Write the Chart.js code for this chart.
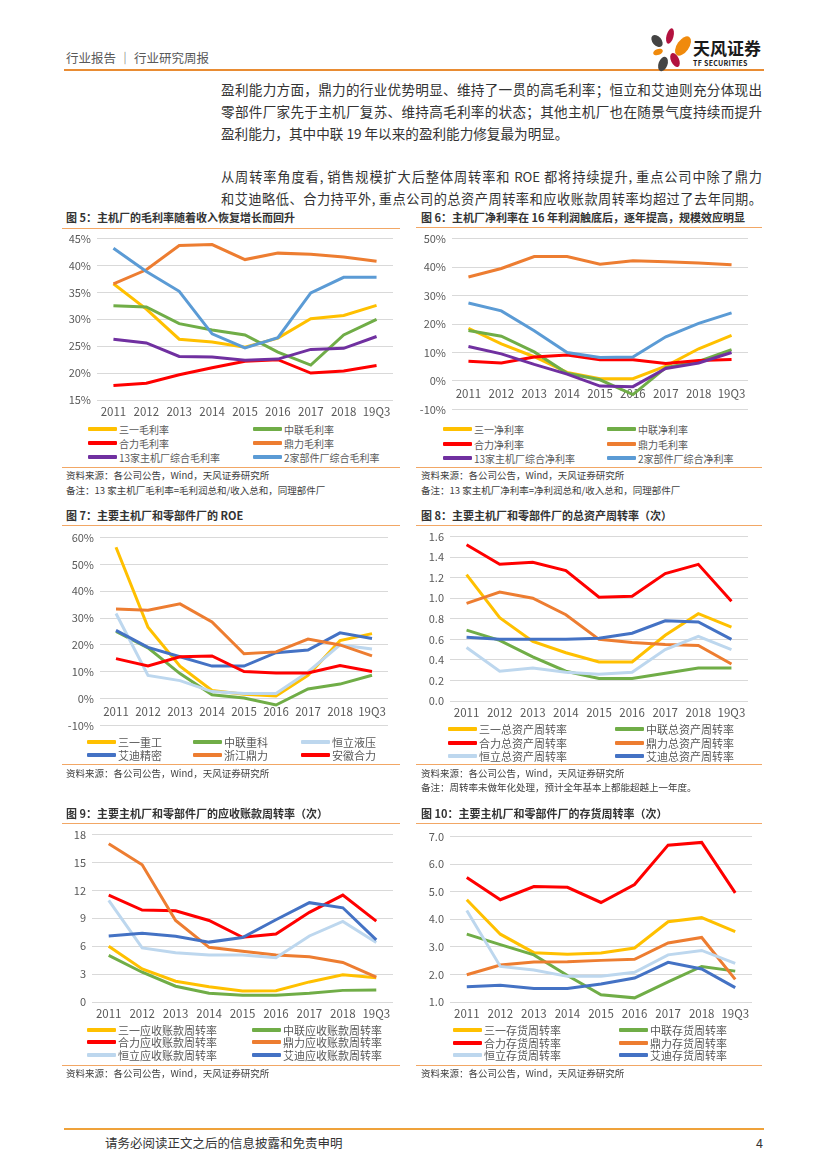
<!DOCTYPE html>
<html>
<head>
<meta charset="utf-8">
<script src="https://cdn.jsdelivr.net/npm/chart.js@4.4.0/dist/chart.umd.min.js"></script>
<style>
  body { margin: 0; background: #fff; font-family: "Noto Sans CJK SC", sans-serif; color: #404040; }
  #page { position: relative; width: 827px; height: 1169px; overflow: hidden; }
  .abs { position: absolute; white-space: nowrap; }
  .rule { position: absolute; height: 1px; background: #F2A765; }
  .ttl { position: absolute; font-size: 11px; font-weight: bold; color: #333; line-height: 14px; white-space: nowrap; }
  .src { position: absolute; font-size: 9.5px; color: #404040; line-height: 12px; white-space: nowrap; }
  .txt { position: absolute; left: 221px; width: 541px; font-size: 13.6px; line-height: 18px; color: #333; white-space: nowrap; }
  .txt.j { text-align: justify; text-align-last: justify; }
  .txt.s { font-size: 13.2px; }
  canvas { position: absolute; }
  .lg { position: absolute; display: flex; align-items: center; height: 14px; color: #595959; white-space: nowrap; }
  .lg i { display: inline-block; width: 29px; height: 4px; margin-right: 2px; border-radius: 1px; }
</style>
</head>
<body>
<div id="page">
  <!-- header -->
  <div class="abs" style="left:66px;top:49px;font-size:12.5px;color:#595959;line-height:17px">行业报告 ｜ 行业研究周报</div>
  <div class="abs" style="left:64px;top:69px;width:700px;height:2px;background:#E98C33"></div>
  <svg class="abs" style="left:640px;top:20px" width="56" height="56" viewBox="640 20 56 56">
    <ellipse cx="670" cy="36" rx="3.5" ry="8" fill="#B3123F" transform="rotate(15 670 36)"/>
    <ellipse cx="683" cy="46" rx="6" ry="11" fill="#F08A0C" transform="rotate(35 683 46)"/>
    <ellipse cx="657" cy="41" rx="4.5" ry="7" fill="#444" transform="rotate(-40 657 41)"/>
    <ellipse cx="658" cy="52" rx="5" ry="3" fill="#F08A0C" transform="rotate(-20 658 52)"/>
    <ellipse cx="663" cy="64" rx="4.5" ry="7.5" fill="#444" transform="rotate(20 663 64)"/>
    <ellipse cx="675" cy="60" rx="4" ry="7.5" fill="#B3123F" transform="rotate(-25 675 60)"/>
  </svg>
  <div class="abs" style="left:693px;top:38px;font-size:17px;font-weight:bold;color:#1a1a1a;line-height:20px">天风证券</div>
  <div class="abs" style="left:693px;top:59px;font-size:7px;font-weight:bold;color:#1a1a1a;line-height:9px;letter-spacing:0.3px">TF SECURITIES</div>

  <!-- body text -->
  <div class="txt j" style="top:80px">盈利能力方面，鼎力的行业优势明显、维持了一贯的高毛利率；恒立和艾迪则充分体现出</div>
  <div class="txt j" style="top:102px">零部件厂家先于主机厂复苏、维持高毛利率的状态；其他主机厂也在随景气度持续而提升</div>
  <div class="txt" style="top:124px">盈利能力，其中中联 19 年以来的盈利能力修复最为明显。</div>
  <div class="txt j s" style="top:168px">从周转率角度看, 销售规模扩大后整体周转率和 ROE 都将持续提升, 重点公司中除了鼎力</div>
  <div class="txt j s" style="top:190px">和艾迪略低、合力持平外, 重点公司的总资产周转率和应收账款周转率均超过了去年同期。</div>

  <!-- chart 5 -->
  <div class="ttl" style="left:66px;top:210px">图 5：主机厂的毛利率随着收入恢复增长而回升</div>
  <div class="rule" style="left:62px;top:228px;width:338px"></div>
  <canvas id="c5" width="338" height="196" style="left:62px;top:226px"></canvas>
  <div id="l5"></div>
  <div class="rule" style="left:62px;top:467px;width:338px"></div>
  <div class="src" style="left:66px;top:469px">资料来源：各公司公告，Wind，天风证券研究所</div>
  <div class="src" style="left:66px;top:484px">备注：13 家主机厂毛利率=毛利润总和/收入总和，同理部件厂</div>

  <!-- chart 6 -->
  <div class="ttl" style="left:421px;top:210px">图 6：主机厂净利率在 16 年利润触底后，逐年提高，规模效应明显</div>
  <div class="rule" style="left:416px;top:227px;width:346px"></div>
  <canvas id="c6" width="346" height="196" style="left:416px;top:226px"></canvas>
  <div id="l6"></div>
  <div class="rule" style="left:416px;top:467px;width:346px"></div>
  <div class="src" style="left:421px;top:469px">资料来源：各公司公告，Wind，天风证券研究所</div>
  <div class="src" style="left:421px;top:484px">备注：13 家主机厂净利率=净利润总和/收入总和，同理部件厂</div>

  <!-- chart 7 -->
  <div class="ttl" style="left:66px;top:508px">图 7：主要主机厂和零部件厂的 ROE</div>
  <div class="rule" style="left:62px;top:525px;width:338px"></div>
  <canvas id="c7" width="338" height="213" style="left:62px;top:525px"></canvas>
  <div id="l7"></div>
  <div class="rule" style="left:62px;top:764px;width:338px"></div>
  <div class="src" style="left:66px;top:767px">资料来源：各公司公告，Wind，天风证券研究所</div>

  <!-- chart 8 -->
  <div class="ttl" style="left:421px;top:508px">图 8：主要主机厂和零部件厂的总资产周转率（次）</div>
  <div class="rule" style="left:416px;top:525px;width:346px"></div>
  <canvas id="c8" width="346" height="199" style="left:416px;top:524px"></canvas>
  <div id="l8"></div>
  <div class="rule" style="left:416px;top:764px;width:346px"></div>
  <div class="src" style="left:421px;top:767px">资料来源：各公司公告，Wind，天风证券研究所</div>
  <div class="src" style="left:421px;top:781px">备注：周转率未做年化处理，预计全年基本上都能超越上一年度。</div>

  <!-- chart 9 -->
  <div class="ttl" style="left:66px;top:806px">图 9：主要主机厂和零部件厂的应收账款周转率（次）</div>
  <div class="rule" style="left:62px;top:823px;width:338px"></div>
  <canvas id="c9" width="338" height="202" style="left:62px;top:822px"></canvas>
  <div id="l9"></div>
  <div class="rule" style="left:62px;top:1065px;width:338px"></div>
  <div class="src" style="left:66px;top:1067px">资料来源：各公司公告，Wind，天风证券研究所</div>

  <!-- chart 10 -->
  <div class="ttl" style="left:421px;top:806px">图 10：主要主机厂和零部件厂的存货周转率（次）</div>
  <div class="rule" style="left:416px;top:823px;width:346px"></div>
  <canvas id="c10" width="346" height="200" style="left:416px;top:824px"></canvas>
  <div id="l10"></div>
  <div class="rule" style="left:416px;top:1065px;width:346px"></div>
  <div class="src" style="left:421px;top:1067px">资料来源：各公司公告，Wind，天风证券研究所</div>

  <!-- footer -->
  <div class="abs" style="left:64px;top:1128px;width:700px;height:2px;background:#EFA23A"></div>
  <div class="abs" style="left:105px;top:1134px;font-size:12.5px;color:#333;line-height:17px">请务必阅读正文之后的信息披露和免责申明</div>
  <div class="abs" style="left:756px;top:1134px;font-size:12.5px;color:#333;line-height:17px">4</div>
</div>

<script>
/* globals Chart:false */
(function drawPage() {
  'use strict'

  var years = ['2011', '2012', '2013', '2014', '2015', '2016', '2017', '2018', '19Q3']

  // 图5 毛利率 (%)
  var gmNames = ['三一毛利率', '中联毛利率', '合力毛利率', '鼎力毛利率', '13家主机厂综合毛利率', '2家部件厂综合毛利率']
  var gmSany = [36.6, 31.9, 26.3, 25.8, 24.8, 26.5, 30.1, 30.7, 32.6]
  var gmZoomlion = [32.5, 32.3, 29.2, 28.0, 27.1, 23.9, 21.5, 27.1, 30.0]
  var gmHeli = [17.7, 18.1, 19.7, 21.0, 22.2, 22.5, 20.0, 20.4, 21.4]
  var gmDingli = [36.6, 39.2, 43.7, 43.9, 41.1, 42.3, 42.1, 41.6, 40.8]
  var gmOem13 = [26.3, 25.6, 23.1, 23.0, 22.4, 22.6, 24.4, 24.6, 26.8]
  var gmParts2 = [43.2, 38.9, 35.2, 27.3, 24.7, 26.6, 34.9, 37.8, 37.8]

  // 图6 净利率 (%)
  var npNames = ['三一净利率', '中联净利率', '合力净利率', '鼎力毛利率', '13家主机厂综合净利率', '2家部件厂综合净利率']
  var npSany = [18.5, 13.0, 8.5, 3.0, 0.8, 0.8, 5.2, 11.3, 16.0]
  var npZoomlion = [17.7, 15.7, 10.2, 2.7, 0.4, -4.8, 4.7, 6.9, 11.0]
  var npHeli = [6.9, 6.3, 8.4, 9.1, 7.4, 7.4, 6.1, 7.2, 7.5]
  var npDingli = [36.5, 39.5, 43.7, 43.7, 41.0, 42.2, 41.9, 41.4, 40.8]
  var npOem13 = [12.1, 9.5, 5.8, 2.4, -1.8, -2.0, 4.4, 6.3, 10.0]
  var npParts2 = [27.4, 24.6, 17.6, 10.0, 8.2, 8.4, 15.5, 20.2, 23.9]

  // 图7 ROE (%)
  var roeNames = ['三一重工', '中联重科', '恒立液压', '艾迪精密', '浙江鼎力', '安徽合力']
  var roeSany = [56.4, 26.6, 12.1, 3.0, 1.6, 1.0, 8.7, 21.6, 24.2]
  var roeZoomlion = [25.0, 18.9, 9.3, 1.4, 0.2, -2.4, 3.6, 5.4, 8.7]
  var roeHengli = [31.7, 8.6, 6.7, 2.6, 1.9, 1.9, 9.9, 20.0, 18.5]
  var roeAidi = [25.4, 19.1, 15.6, 12.1, 12.1, 17.1, 18.1, 24.5, 22.4]
  var roeDingli = [33.4, 32.9, 35.3, 28.6, 16.7, 17.4, 22.2, 20.0, 15.9]
  var roeHeli = [14.9, 12.2, 15.6, 15.9, 10.1, 9.5, 9.5, 12.3, 10.1]

  // 图8 总资产周转率 (次)
  var taNames = ['三一总资产周转率', '中联总资产周转率', '合力总资产周转率', '鼎力总资产周转率', '恒立总资产周转率', '艾迪总资产周转率']
  var taSany = [1.23, 0.81, 0.58, 0.47, 0.38, 0.38, 0.64, 0.85, 0.72]
  var taZoomlion = [0.69, 0.59, 0.43, 0.29, 0.22, 0.22, 0.27, 0.32, 0.32]
  var taHeli = [1.52, 1.33, 1.35, 1.27, 1.01, 1.02, 1.24, 1.33, 0.97]
  var taDingli = [0.95, 1.06, 1.00, 0.84, 0.60, 0.57, 0.55, 0.54, 0.36]
  var taHengli = [0.52, 0.29, 0.32, 0.28, 0.26, 0.28, 0.50, 0.63, 0.50]
  var taAidi = [0.62, 0.60, 0.60, 0.60, 0.61, 0.66, 0.78, 0.77, 0.60]

  // 图9 应收账款周转率 (次)
  var arNames = ['三一应收账款周转率', '中联应收账款周转率', '合力应收账款周转率', '鼎力应收账款周转率', '恒立应收账款周转率', '艾迪应收账款周转率']
  var arSany = [6.0, 3.55, 2.23, 1.64, 1.18, 1.22, 2.16, 2.92, 2.61]
  var arZoomlion = [5.01, 3.2, 1.7, 0.94, 0.73, 0.73, 0.94, 1.25, 1.29]
  var arHeli = [11.49, 9.88, 9.81, 8.77, 6.96, 7.31, 9.64, 11.49, 8.7]
  var arDingli = [17.02, 14.76, 8.77, 5.88, 5.46, 5.05, 4.87, 4.25, 2.68]
  var arHengli = [10.93, 5.81, 5.29, 5.05, 5.05, 4.77, 7.1, 8.67, 6.4]
  var arAidi = [7.1, 7.38, 7.07, 6.44, 6.93, 8.84, 10.68, 10.13, 6.68]

  // 图10 存货周转率 (次)
  var invNames = ['三一存货周转率', '中联存货周转率', '合力存货周转率', '鼎力存货周转率', '恒立存货周转率', '艾迪存货周转率']
  var invSany = [4.71, 3.46, 2.79, 2.73, 2.78, 2.96, 3.91, 4.06, 3.55]
  var invZoomlion = [3.46, 3.08, 2.71, 1.96, 1.26, 1.15, 1.73, 2.29, 2.12]
  var invHeli = [5.52, 4.71, 5.19, 5.16, 4.61, 5.26, 6.69, 6.79, 4.96]
  var invDingli = [1.99, 2.34, 2.45, 2.46, 2.51, 2.55, 3.14, 3.34, 1.82]
  var invHengli = [4.32, 2.29, 2.16, 1.93, 1.93, 2.08, 2.71, 2.87, 2.4]
  var invAidi = [1.55, 1.61, 1.49, 1.49, 1.65, 1.87, 2.44, 2.2, 1.52]

  var YELLOW = '#FFC000', GREEN = '#70AD47', RED = '#FF0000', ORANGE = '#ED7D31'
  var PURPLE = '#7030A0', BLUE = '#5B9BD5', PALE = '#BDD7EE', NAVY = '#4472C4'

  Chart.defaults.font.family = '"Noto Sans CJK SC", "DejaVu Sans", sans-serif'
  Chart.defaults.color = '#595959'

  var pct = function (v) { return v + '%' }
  var one = function (v) { return v.toFixed(1) }
  var plain = function (v) { return v }

  function lineChart(id, box, series, colors, y) {
    var n = series.length
    return new Chart(document.getElementById(id), {
      type: 'line',
      data: {
        labels: years,
        datasets: series.map(function (s, i) {
          return {
            data: s,
            borderColor: colors[i],
            backgroundColor: colors[i],
            borderWidth: 3,
            pointRadius: 0,
            tension: 0,
            fill: false,
            order: n - i
          }
        })
      },
      options: {
        responsive: false,
        animation: false,
        layout: { padding: { top: box.pt, right: box.pr, bottom: box.pb || 0, left: 0 } },
        plugins: { legend: { display: false }, tooltip: { enabled: false } },
        scales: {
          x: {
            offset: true,
            position: box.zero ? { y: 0 } : 'bottom',
            grid: { display: false, drawTicks: false },
            border: { display: false },
            ticks: { font: { size: 11.5 }, padding: box.zero ? 6 : 5, maxRotation: 0, autoSkip: false },
            afterFit: function (s) { if (!box.zero) s.height = box.xh }
          },
          y: {
            min: y.min,
            max: y.max,
            ticks: { stepSize: y.step, callback: y.fmt, padding: 6, font: { size: 11 } },
            grid: { color: '#D9D9D9', drawTicks: false },
            border: { display: false },
            afterFit: function (s) { s.width = box.yw }
          }
        }
      }
    })
  }

  function legend(id, names, colors, cols, rows, size) {
    var host = document.getElementById(id)
    names.forEach(function (name, i) {
      var d = document.createElement('div')
      d.className = 'lg'
      d.style.left = cols[i % cols.length] + 'px'
      d.style.top = (rows[Math.floor(i / cols.length)] - 7) + 'px'
      d.style.fontSize = size + 'px'
      d.innerHTML = '<i style="background:' + colors[i] + '"></i>' + name
      host.appendChild(d)
    })
  }

  var c56 = [YELLOW, GREEN, RED, ORANGE, PURPLE, BLUE]
  var c7 = [YELLOW, GREEN, PALE, NAVY, ORANGE, RED]
  var c8 = [YELLOW, GREEN, RED, ORANGE, PALE, NAVY]

  lineChart('c5', { pt: 8, pr: 7, yw: 35, xh: 22 },
    [gmSany, gmZoomlion, gmHeli, gmDingli, gmOem13, gmParts2], c56,
    { min: 15, max: 45, step: 5, fmt: pct })
  legend('l5', gmNames, c56, [88, 253], [429, 443, 457], 10)

  lineChart('c6', { pt: 8, pr: 14, yw: 36, pb: 8, zero: true },
    [npSany, npZoomlion, npHeli, npDingli, npOem13, npParts2], c56,
    { min: -10, max: 50, step: 10, fmt: pct })
  legend('l6', npNames, c56, [443, 607], [429, 444, 458], 10)

  lineChart('c7', { pt: 8, pr: 12, yw: 38, pb: 8, zero: true },
    [roeSany, roeZoomlion, roeHengli, roeAidi, roeDingli, roeHeli], c7,
    { min: -10, max: 60, step: 10, fmt: pct })
  legend('l7', roeNames, c7, [87, 193, 301], [742, 755], 11)

  lineChart('c8', { pt: 8, pr: 14, yw: 34, xh: 22 },
    [taSany, taZoomlion, taHeli, taDingli, taHengli, taAidi], c8,
    { min: 0, max: 1.6, step: 0.2, fmt: one })
  legend('l8', taNames, c8, [448, 615], [729, 743, 756], 11)

  lineChart('c9', { pt: 8, pr: 7, yw: 30, xh: 22 },
    [arSany, arZoomlion, arHeli, arDingli, arHengli, arAidi], c8,
    { min: 0, max: 18, step: 3, fmt: plain })
  legend('l9', arNames, c8, [87, 252], [1030, 1042, 1055], 11)

  lineChart('c10', { pt: 8, pr: 10, yw: 34, xh: 22 },
    [invSany, invZoomlion, invHeli, invDingli, invHengli, invAidi], c8,
    { min: 1, max: 7, step: 1, fmt: one })
  legend('l10', invNames, c8, [453, 619], [1030, 1043, 1055], 11)
}())
</script>
</body>
</html>
